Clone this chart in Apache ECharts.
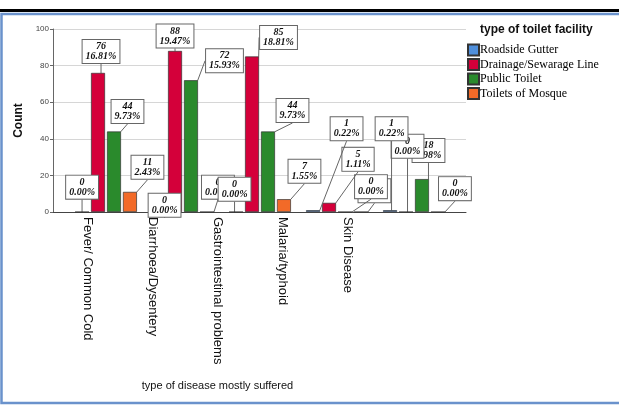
<!DOCTYPE html>
<html>
<head>
<meta charset="utf-8">
<script src="https://cdn.jsdelivr.net/npm/echarts@6/dist/echarts.min.js"></script>
<style>html,body{margin:0;padding:0;background:#fff}#c{width:619px;height:407px}</style>
</head>
<body>
<div id="c"></div>
<script>
const categories = ['Fever/ Common Cold', 'Diarrhoea/Dysentery', 'Gastrointestinal problems', 'Malaria/typhoid', 'Skin Disease'];
const seriesNames = ['Roadside Gutter', 'Drainage/Sewarage Line', 'Public Toilet', 'Toilets of Mosque'];
const roadsideGutter = [0, 0, 0, 1, 1];
const drainageSewarage = [76, 88, 85, 5, 0];
const publicToilet = [44, 72, 44, 0, 18];
const toiletsOfMosque = [11, 0, 7, 0, 0];
const yMin = 0, yMax = 100, yInterval = 20;

const seriesValues = [roadsideGutter, drainageSewarage, publicToilet, toiletsOfMosque];
const colors = ['#4f8fdc', '#d4003a', '#2a8a2c', '#f26a28'];
const total = seriesValues.flat().reduce((a, b) => a + b, 0);

// label box centre offsets (px) relative to bar top centre
const labelOffsets = [
  [[0, -24.5], [5.5, -6.5], [-1.5, -22.5], [33.5, -81.5], [1.5, -81.5]],
  [[3, -21.5], [0, -15], [26.5, -19], [29, -43.5], [1.5, -65.5]],
  [[13.5, -20], [33.5, -19.5], [24.5, -21], [26, -25], [6.5, -28.5]],
  [[17.5, -24.5], [11, -24.5], [20.5, -28], [13.5, -21], [17, -23]]
];

const chart = echarts.init(document.getElementById('c'), null, {renderer: 'canvas'});

const series = seriesNames.map((name, si) => ({
  name: name,
  type: 'bar',
  xAxisIndex: 1,
  yAxisIndex: 1,
  data: seriesValues[si],
  barWidth: 14,
  barGap: '14%',
  z: 10 - si,
  itemStyle: {color: colors[si], borderColor: '#333', borderWidth: 0.7},
  label: {
    show: true,
    position: 'top',
    formatter: p => p.value + '\n' + (p.value / total * 100).toFixed(2) + '%',
    fontFamily: 'Liberation Serif',
    fontStyle: 'italic',
    fontWeight: 'bold',
    fontSize: 10,
    lineHeight: 10,
    color: '#111',
    backgroundColor: '#fff',
    borderColor: '#666',
    borderWidth: 1,
    padding: [2, 3, 1, 3],
    align: 'center'
  },
  labelLine: {show: true, lineStyle: {color: '#666', width: 1}},
  labelLayout: function (p) {
    const o = labelOffsets[p.seriesIndex][p.dataIndex];
    const r = p.rect;
    const top = Math.min(r.y, r.y + r.height);
    return {
      x: r.x + r.width / 2 + o[0],
      y: top + o[1],
      align: 'center',
      verticalAlign: 'middle'
    };
  },
  emphasis: {disabled: true}
}));

const option = {
  animation: false,
  backgroundColor: '#fff',
  grid: [
    {left: 53, right: 153, top: 29, bottom: 195},
    {left: 67.5, right: 166.5, top: 29, bottom: 195},
    {left: 54.5, right: 238.5, top: 29, bottom: 195}
  ],
  xAxis: [
    {gridIndex: 0, type: 'value', min: 0, max: 1, axisLine: {show: true, onZero: false, lineStyle: {color: '#444', width: 1}}, axisTick: {show: false}, axisLabel: {show: false}, splitLine: {show: false}},
    {gridIndex: 1, type: 'category', data: categories, axisLine: {show: false}, axisTick: {show: false}, axisLabel: {show: false}},
    {gridIndex: 2, type: 'category', data: categories, axisLine: {show: false}, axisTick: {show: false},
      axisLabel: {show: true, interval: 0, rotate: -90, margin: 5, fontFamily: 'Liberation Sans', fontSize: 13, color: '#111'},
      name: 'type of disease mostly suffered', nameLocation: 'middle', nameGap: 168,
      nameTextStyle: {fontFamily: 'Liberation Sans', fontSize: 11, color: '#111'}}
  ],
  yAxis: [
    {gridIndex: 0, type: 'value', min: yMin, max: yMax, interval: yInterval,
      axisLine: {show: true, lineStyle: {color: '#666'}},
      axisTick: {show: true, length: 3, lineStyle: {color: '#666'}},
      axisLabel: {fontFamily: 'Liberation Sans', fontSize: 8, color: '#444', margin: 4},
      splitLine: {show: true, lineStyle: {color: '#d6d6d6', width: 1}},
      name: 'Count', nameLocation: 'middle', nameGap: 19,
      nameTextStyle: {fontFamily: 'Liberation Sans', fontSize: 12, fontWeight: 'bold', color: '#111'}},
    {gridIndex: 1, type: 'value', min: yMin, max: yMax, show: false},
    {gridIndex: 2, type: 'value', min: yMin, max: yMax, show: false}
  ],
  legend: {
    orient: 'vertical',
    left: 467, top: 43.5,
    padding: 0,
    itemWidth: 11, itemHeight: 11, itemGap: 1.5,
    icon: 'rect',
    textStyle: {fontFamily: 'Liberation Serif', fontSize: 12, lineHeight: 11, color: '#000', padding: [0, 0, 0, -4]},
    data: seriesNames
  },
  graphic: [
    {type: 'rect', shape: {x: 0, y: 9, width: 619, height: 3}, style: {fill: '#000'}, silent: true},
    {type: 'rect', shape: {x: 1.5, y: 14, width: 625, height: 389}, style: {fill: 'none', stroke: '#6a92cc', lineWidth: 2.5}, silent: true},
    {type: 'text', left: 480, top: 24, style: {text: 'type of toilet facility', font: 'bold 12px "Liberation Sans"', fill: '#111'}, silent: true}
  ],
  series: series
};
chart.setOption(option);
</script>
</body>
</html>
